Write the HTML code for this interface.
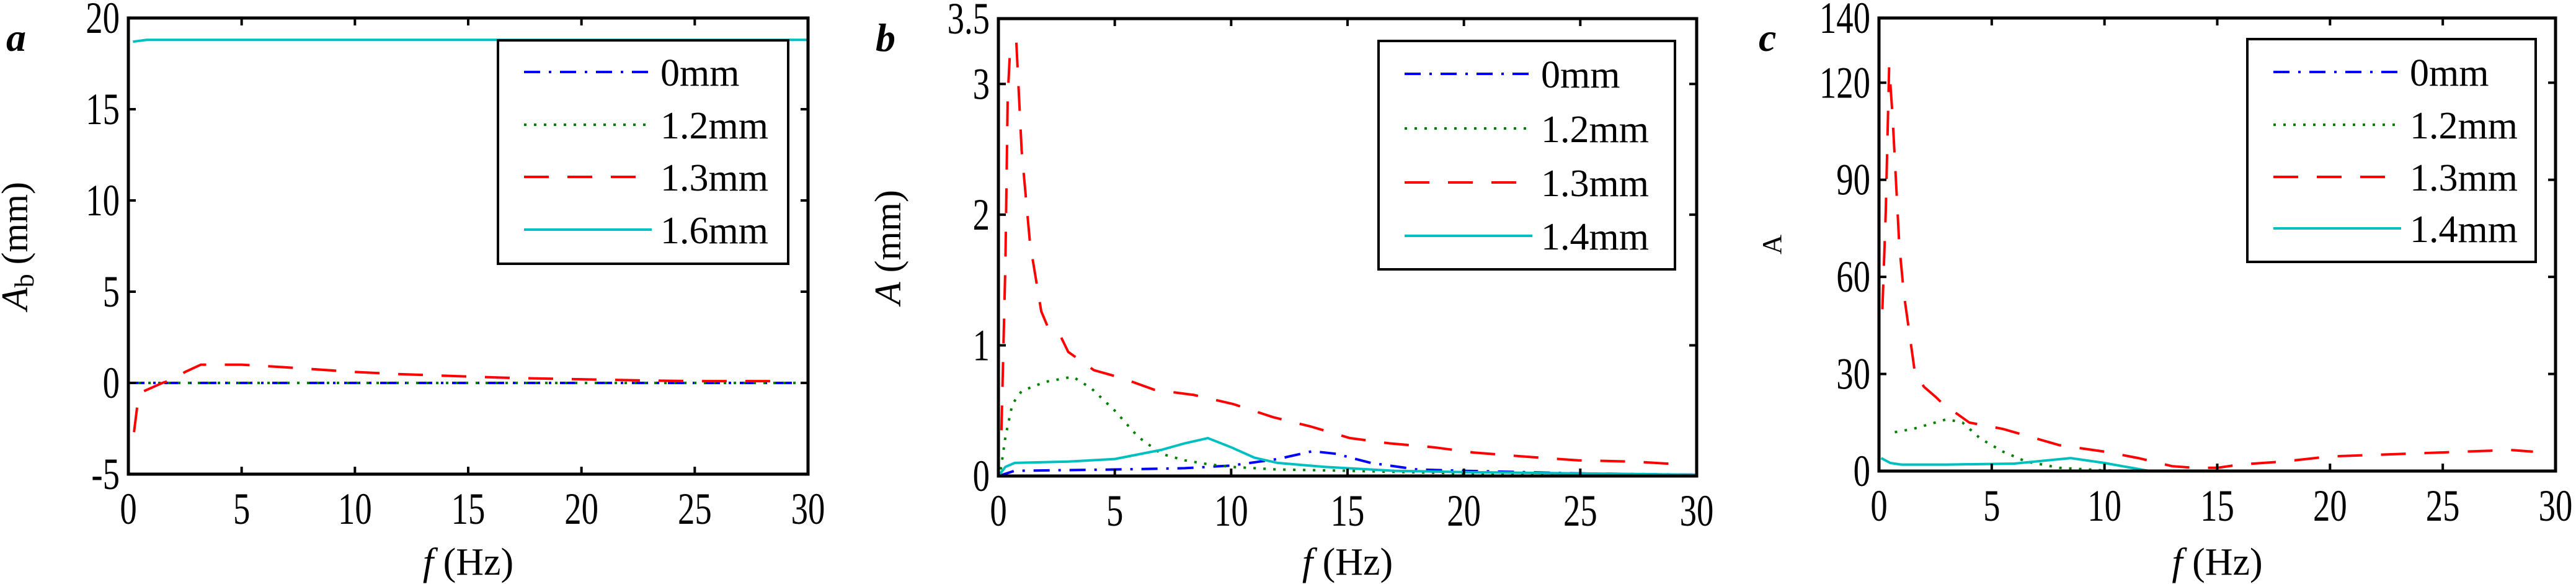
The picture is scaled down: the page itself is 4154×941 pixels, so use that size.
<!DOCTYPE html>
<html><head><meta charset="utf-8"><style>
html,body{margin:0;padding:0;background:#fff;}
svg{display:block;}
text{font-family:"Liberation Serif",serif;fill:#000;}
</style></head><body>
<svg id="fig" width="4154" height="941" viewBox="0 0 4154 941" xmlns="http://www.w3.org/2000/svg"></svg>
<script>
// ---- data: x values (Hz) and y values per series ----
const xTicks = [0,5,10,15,20,25,30];
const aTicks = [-5,0,5,10,15,20];
const bTicks = [0,1,2,3,3.5];
const cTicks = [0,30,60,90,120,140];

const aRedX = [0.25,0.4,0.6,1.5,2.0,2.5,3.2,5,7,10,12,15,17,20,23,25,27,29];
const aRedY = [-2.7,-1.2,-0.5,0,0.2,0.6,1.0,1.0,0.85,0.6,0.48,0.35,0.27,0.2,0.13,0.1,0.1,0.1];
const aCyanX = [0.2,0.8,2,30];
const aCyanY = [18.7,18.8,18.8,18.8];
const aBlueX = [0,30];
const aBlueY = [0,0];
const aGreenX = [0,30];
const aGreenY = [0,0];

const bRedX = [0.13,0.3,0.4,0.5,0.77,1.0,1.36,1.84,2.1,2.7,3.0,4.1,5.3,6.7,8.4,10.1,11.8,13.4,15.1,16.8,18.7,20.4,22.5,24.9,27.3,29.2];
const bRedY = [0.35,1.63,2.9,3.26,3.32,2.49,1.78,1.26,1.15,1.06,0.95,0.81,0.75,0.66,0.62,0.55,0.45,0.38,0.29,0.25,0.22,0.18,0.15,0.12,0.11,0.09];
const bGreenX = [0.1,0.3,0.6,1,2,3.2,4,5,6,7,8,9,10,12,15,20,25,30];
const bGreenY = [0.05,0.3,0.55,0.65,0.72,0.76,0.67,0.5,0.3,0.17,0.12,0.09,0.07,0.05,0.04,0.02,0.01,0.01];
const bCyanX = [0,0.3,0.7,3,5,7,8,9,10,11,12,14,17,20,25,30];
const bCyanY = [0,0.07,0.1,0.11,0.13,0.2,0.25,0.29,0.22,0.14,0.1,0.07,0.04,0.03,0.02,0.01];
const bBlueX = [0,0.7,5,8,10,12,13.5,14.5,16,18,20,25,30];
const bBlueY = [0,0.04,0.05,0.06,0.08,0.13,0.19,0.17,0.1,0.05,0.04,0.02,0.01];

const cRedX = [0.15,0.3,0.45,0.6,0.75,0.9,1.1,1.3,1.6,2,2.5,2.8,4,5.5,7,8,10,11.5,13,14,15,16,18,20,22,24,26,28,29];
const cRedY = [50,80,125,110,90,70,55,45,30,26,23,21,15,13,10,8,6,4,1.5,1,1,2,3,4.5,5,5.5,6,6.5,6];
const cGreenX = [0.7,1.5,3,3.7,4.5,5.5,6.5,8,10,12,30];
const cGreenY = [12,13,16,15,10,6,3,1,0.2,0,0];
const cCyanX = [0.1,0.5,1,3,6,8.5,10,12,30];
const cCyanY = [4,2.5,2,2,2.3,4,2.5,0,0];
const cBlueX = [0,30];
const cBlueY = [0,0];

const legA = ["0mm","1.2mm","1.3mm","1.6mm"];
const legBC = ["0mm","1.2mm","1.3mm","1.4mm"];

// ---- rendering ----
const NS="http://www.w3.org/2000/svg";
const svg=document.getElementById('fig');
function mk(tag,attrs,parent){const e=document.createElementNS(NS,tag);for(const k in attrs)e.setAttribute(k,attrs[k]);(parent||svg).appendChild(e);return e;}
const styles={
 blue:{stroke:'#0000ff',dash:'26 14 4 14'},
 green:{stroke:'#008000',dash:'4 12'},
 red:{stroke:'#ff0000',dash:'40 30'},
 cyan:{stroke:'#00bfbf',dash:'none'}
};
function panel(p){
 const g=mk('g',{});
 
 
 const sx=v=>p.L+(v-0)/(30-0)*(p.R-p.L);
 const sy=v=>p.B-(v-p.ymin)/(p.ymax-p.ymin)*(p.B-p.T);
 const cid='clip'+p.id;
 const cp=mk('clipPath',{id:cid},g);mk('rect',{x:p.L,y:p.T,width:p.R-p.L,height:p.B-p.T},cp);
 p.series.forEach(s=>{
  const d=s.x.map((x,i)=>(i?'L':'M')+sx(x).toFixed(1)+','+sy(s.y[i]).toFixed(1)).join('');
  const st=styles[s.c];
  const path=mk('path',{d:d,fill:'none',stroke:st.stroke,'stroke-width':4,'stroke-dasharray':st.dash,'clip-path':'url(#'+cid+')'},g);
  
  
 });
 const box=mk('rect',{x:p.L,y:p.T,width:p.R-p.L,height:p.B-p.T,fill:'none',stroke:'#000','stroke-width':5},g);
 
 
 xTicks.forEach(t=>{
  const x=sx(t);
  mk('line',{x1:x,y1:p.B,x2:x,y2:p.B-12,stroke:'#000','stroke-width':4},g);
  mk('line',{x1:x,y1:p.T,x2:x,y2:p.T+12,stroke:'#000','stroke-width':4},g);
  const tx=mk('text',{transform:`translate(${x},${p.B+80}) scale(0.76,1)`,'text-anchor':'middle','font-size':72},g);
  tx.textContent=t;
  
  
 });
 p.ticks.forEach(t=>{
  const y=sy(t);
  mk('line',{x1:p.L,y1:y,x2:p.L+12,y2:y,stroke:'#000','stroke-width':4},g);
  mk('line',{x1:p.R,y1:y,x2:p.R-12,y2:y,stroke:'#000','stroke-width':4},g);
  const ty=mk('text',{transform:`translate(${p.L-14},${y+24}) scale(0.76,1)`,'text-anchor':'end','font-size':72},g);
  ty.textContent=t;
  
  
 });
 const xt=mk('text',{x:(p.L+p.R)/2,y:926,'text-anchor':'middle','font-size':62},g);
 xt.innerHTML='<tspan font-style="italic">f</tspan> (Hz)';
 
 
 const yt=mk('text',{transform:`translate(${p.ytx},${(p.T+p.B)/2}) rotate(-90)`,'text-anchor':'middle','font-size':p.ytSize},g);
 yt.innerHTML=p.ytitle;
 
 
 const pl=mk('text',{x:p.letterX,y:82,'font-size':64,'font-weight':'bold','font-style':'italic'},g);
 pl.textContent=p.letter;
 
 
 const lg=mk('g',{},g);
 
 
 mk('rect',{x:p.lg[0],y:p.lg[1],width:p.lg[2]-p.lg[0],height:p.lg[3]-p.lg[1],fill:'#fff',stroke:'#000','stroke-width':4},lg);
 const cols=['blue','green','red','cyan'];
 p.leg.forEach((lab,i)=>{
  const y=p.lgY[i];
  const e=mk('g',{},lg);
  
  
  const st=styles[cols[i]];
  mk('line',{x1:p.lg[0]+42,y1:y,x2:p.lg[0]+248,y2:y,stroke:st.stroke,'stroke-width':4,'stroke-dasharray':st.dash},e);
  const t=mk('text',{x:p.lg[0]+262,y:y+22,'font-size':62},e);
  t.textContent=lab;
 });
}
panel({id:'a',name:'panel-a',L:207,R:1303,T:29,B:764,ymin:-5,ymax:20,ticks:aTicks,letter:'a',letterX:10,
 ytx:44,ytSize:60,ytitle:'<tspan font-style="italic">A</tspan><tspan font-size="44" dy="10">b</tspan><tspan dy="-10"> (mm)</tspan>',
 lg:[803,65,1271,425],lgY:[116,201,285,370],leg:legA,
 series:[{x:aBlueX,y:aBlueY,c:'blue',n:'line-0mm'},{x:aGreenX,y:aGreenY,c:'green',n:'line-1.2mm'},{x:aRedX,y:aRedY,c:'red',n:'line-1.3mm'},{x:aCyanX,y:aCyanY,c:'cyan',n:'line-1.6mm'}]});
panel({id:'b',name:'panel-b',L:1610,R:2736,T:30,B:767,ymin:0,ymax:3.5,ticks:bTicks,letter:'b',letterX:1412,
 ytx:1452,ytSize:60,ytitle:'<tspan font-style="italic">A</tspan> (mm)',
 lg:[2223,66,2701,434],lgY:[119,207,294,380],leg:legBC,
 series:[{x:bBlueX,y:bBlueY,c:'blue',n:'line-0mm'},{x:bGreenX,y:bGreenY,c:'green',n:'line-1.2mm'},{x:bRedX,y:bRedY,c:'red',n:'line-1.3mm'},{x:bCyanX,y:bCyanY,c:'cyan',n:'line-1.4mm'}]});
panel({id:'c',name:'panel-c',L:3030,R:4121,T:29,B:759,ymin:0,ymax:140,ticks:cTicks,letter:'c',letterX:2836,
 ytx:2872,ytSize:44,ytitle:'A',
 lg:[3624,63,4089,422],lgY:[116,201,285,368],leg:legBC,
 series:[{x:cBlueX,y:cBlueY,c:'blue',n:'line-0mm'},{x:cGreenX,y:cGreenY,c:'green',n:'line-1.2mm'},{x:cRedX,y:cRedY,c:'red',n:'line-1.3mm'},{x:cCyanX,y:cCyanY,c:'cyan',n:'line-1.4mm'}]});
</script>
</body></html>
